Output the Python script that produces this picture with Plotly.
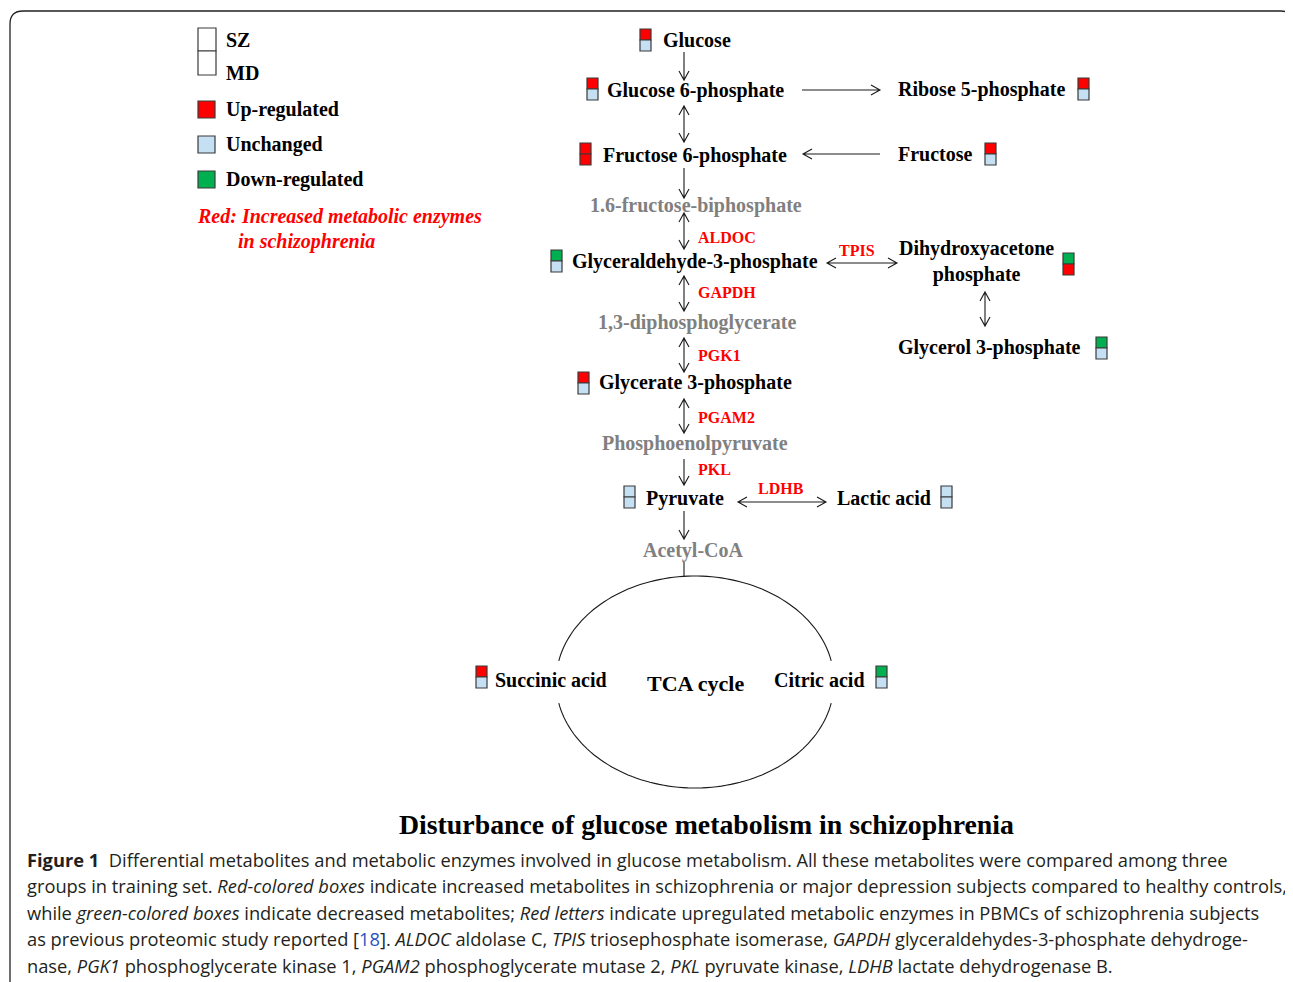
import numpy as np
import plotly.graph_objects as go

# ---------------- data ----------------
W, H = 1293, 982
OFF = 8  # page body margin

legend_labels = ["Up-regulated", "Unchanged", "Down-regulated"]
legend_status = ["up", "same", "down"]

metabolites = ["Glucose", "Glucose 6-phosphate", "Ribose 5-phosphate",
               "Fructose 6-phosphate", "Fructose", "Glyceraldehyde-3-phosphate",
               "Dihydroxyacetone<br>phosphate", "Glycerol 3-phosphate",
               "Glycerate 3-phosphate", "Pyruvate", "Lactic acid",
               "Succinic acid", "Citric acid"]
sz_status = ["up", "up", "up", "up", "up", "down", "down", "down",
             "up", "same", "same", "up", "down"]
md_status = ["same", "same", "same", "up", "same", "same", "up", "same",
             "same", "same", "same", "same", "same"]

intermediates = ["1.6-fructose-biphosphate", "1,3-diphosphoglycerate",
                 "Phosphoenolpyruvate", "Acetyl-CoA"]
enzymes = ["ALDOC", "TPIS", "GAPDH", "PGK1", "PGAM2", "PKL", "LDHB"]

title_text = "Disturbance of glucose metabolism in schizophrenia"
caption_lines = [
    "<b>Figure 1</b>  Differential metabolites and metabolic enzymes involved in glucose metabolism. All these metabolites were compared among three",
    "groups in training set. <i>Red-colored boxes</i> indicate increased metabolites in schizophrenia or major depression subjects compared to healthy controls,",
    "while <i>green-colored boxes</i> indicate decreased metabolites; <i>Red letters</i> indicate upregulated metabolic enzymes in PBMCs of schizophrenia subjects",
    "as previous proteomic study reported [<span style='color:#2a52be'>18</span>]. <i>ALDOC</i> aldolase C, <i>TPIS</i> triosephosphate isomerase, <i>GAPDH</i> glyceraldehydes-3-phosphate dehydroge-",
    "nase, <i>PGK1</i> phosphoglycerate kinase 1, <i>PGAM2</i> phosphoglycerate mutase 2, <i>PKL</i> pyruvate kinase, <i>LDHB</i> lactate dehydrogenase B.",
]

# ---------------- layout (positions / styles) ----------------
COL = {"up": "#ff0000", "same": "#c5dff3", "down": "#00b050"}
SERIF = "Liberation Serif, Times New Roman, serif"
SANS = "Open Sans, Noto Sans, sans-serif"

# metabolite: (text_x_left, text_y_center, box_x_left, box_y_top)
met_pos = {
    "Glucose": (662, 40, 640, 29),
    "Glucose 6-phosphate": (606, 90, 587, 78),
    "Ribose 5-phosphate": (897, 89, 1078, 78),
    "Fructose 6-phosphate": (602, 155, 580, 143),
    "Fructose": (897, 154, 985, 143),
    "Glyceraldehyde-3-phosphate": (571, 261, 551, 250),
    "Dihydroxyacetone<br>phosphate": (976, 261, 1063, 253),
    "Glycerol 3-phosphate": (897, 347, 1096, 337),
    "Glycerate 3-phosphate": (598, 382, 578, 372),
    "Pyruvate": (645, 498, 624, 486),
    "Lactic acid": (836, 498, 941, 486),
    "Succinic acid": (494, 680, 476, 666),
    "Citric acid": (773, 680, 876, 666),
}
inter_pos = {"1.6-fructose-biphosphate": (696, 205),
             "1,3-diphosphoglycerate": (697, 322),
             "Phosphoenolpyruvate": (695, 443),
             "Acetyl-CoA": (693, 550)}
enz_pos = {"ALDOC": (697, 237), "TPIS": (838, 250), "GAPDH": (697, 292),
           "PGK1": (697, 355), "PGAM2": (697, 417), "PKL": (697, 469),
           "LDHB": (757, 488)}

# arrows: (x0, y0, x1, y1, double)
AX = 684
arrows = [
    (AX, 52, AX, 80, False),
    (802, 90, 880, 90, False),
    (AX, 106, AX, 142, True),
    (880, 154, 803, 154, False),
    (AX, 168, AX, 198, False),
    (AX, 213, AX, 249, True),
    (827, 263, 897, 263, True),
    (985, 292, 985, 326, True),
    (AX, 276, AX, 311, True),
    (AX, 338, AX, 372, True),
    (AX, 399, AX, 433, True),
    (AX, 459, AX, 485, False),
    (738, 502, 826, 502, True),
    (AX, 511, AX, 539, False),
]

shapes = []
annotations = []


def text(x, y, s, size=20, color="#000", family=SERIF, xanchor="left", yanchor="middle", align="left"):
    annotations.append(dict(x=x, y=y, xref="x", yref="y", text=s, showarrow=False,
                            xanchor=xanchor, yanchor=yanchor, align=align,
                            font=dict(family=family, size=size, color=color), borderpad=0))


def rect(x0, y0, x1, y1, fill):
    shapes.append(dict(type="rect", xref="x", yref="y", x0=x0, y0=y0, x1=x1, y1=y1,
                       fillcolor=fill, line=dict(color="#3a3a3a", width=1.2), layer="above"))


def arrow(x0, y0, x1, y1, double, hl=9, hw=5):
    d = np.array([x1 - x0, y1 - y0], float)
    d /= np.hypot(*d)
    n = np.array([-d[1], d[0]])
    p = f"M {x0},{y0} L {x1},{y1} "
    tip = np.array([x1, y1])
    a = tip - d * hl + n * hw
    b = tip - d * hl - n * hw
    p += f"M {a[0]:.1f},{a[1]:.1f} L {x1},{y1} L {b[0]:.1f},{b[1]:.1f} "
    if double:
        tip = np.array([x0, y0])
        a = tip + d * hl + n * hw
        b = tip + d * hl - n * hw
        p += f"M {a[0]:.1f},{a[1]:.1f} L {x0},{y0} L {b[0]:.1f},{b[1]:.1f}"
    shapes.append(dict(type="path", xref="x", yref="y", path=p,
                       line=dict(color="#1a1a1a", width=1.1)))


# frame
shapes.append(dict(type="path", xref="x", yref="y",
                   path=f"M 10,{H} L 10,24 Q 10,11 23,11 L 1281,11 Q 1290,11 {W},19",
                   line=dict(color="#222", width=1.3)))

# legend
rect(198, 28, 216, 51, "white")
rect(198, 51, 216, 75, "white")
text(225, 40, "<b>SZ</b>")
text(225, 73, "<b>MD</b>")
for i, (lab, st) in enumerate(zip(legend_labels, legend_status)):
    yc = 109 + 35 * i
    rect(198, yc - 8, 215, yc + 9, COL[st])
    text(225, yc, f"<b>{lab}</b>")
text(196, 216, "<b><i>Red: Increased metabolic enzymes</i></b>", color="#ff0000")
text(237, 241, "<b><i>in schizophrenia</i></b>", color="#ff0000")

# metabolites
for name, s1, s2 in zip(metabolites, sz_status, md_status):
    tx, ty, bx, by = met_pos[name]
    if "<br>" in name:
        text(tx, ty, f"<b>{name}</b>", xanchor="center", align="center")
    else:
        text(tx, ty, f"<b>{name}</b>")
    rect(bx, by, bx + 11, by + 11, COL[s1])
    rect(bx, by + 11, bx + 11, by + 22, COL[s2])

for name in intermediates:
    x, y = inter_pos[name]
    text(x, y, f"<b>{name}</b>", color="#808080", xanchor="center")

for name in enzymes:
    x, y = enz_pos[name]
    text(x, y, f"<b>{name}</b>", size=16, color="#ff0000")

for a in arrows:
    arrow(*a)

# acetyl-CoA connector
shapes.append(dict(type="line", xref="x", yref="y", x0=AX, y0=562, x1=AX, y1=577,
                   line=dict(color="#1a1a1a", width=1.1)))

# TCA ellipse (two arcs with gaps at the labels)
cx, cy, rx, ry = 695, 682, 139, 106
def arc(t0, t1):
    t = np.linspace(t0, t1, 80)
    xs = cx + rx * np.cos(t)
    ys = cy + ry * np.sin(t)
    return "M " + " L ".join(f"{x:.1f},{y:.1f}" for x, y in zip(xs, ys))
g = 0.2
shapes.append(dict(type="path", xref="x", yref="y",
                   path=arc(np.pi + g, 2 * np.pi - g) + " " + arc(g, np.pi - g),
                   line=dict(color="#1a1a1a", width=1.1)))
text(695, 683, "<b>TCA cycle</b>", size=22, xanchor="center")

# title & caption
text(706, 824, f"<b>{title_text}</b>", size=27.8, xanchor="center")
for i, line in enumerate(caption_lines):
    text(26, 859 + 26.5 * i, line, size=18.3, color="#231f20", family=SANS)

fig = go.Figure(go.Scatter(x=[], y=[]))
fig.update_layout(width=W - OFF, height=H - OFF, margin=dict(l=0, r=0, t=0, b=0),
                  paper_bgcolor="white", plot_bgcolor="white",
                  xaxis=dict(range=[OFF, W], visible=False, fixedrange=True),
                  yaxis=dict(range=[H, OFF], visible=False, fixedrange=True),
                  shapes=shapes, annotations=annotations, showlegend=False)
fig.write_html("out.html", config={"displayModeBar": False})
